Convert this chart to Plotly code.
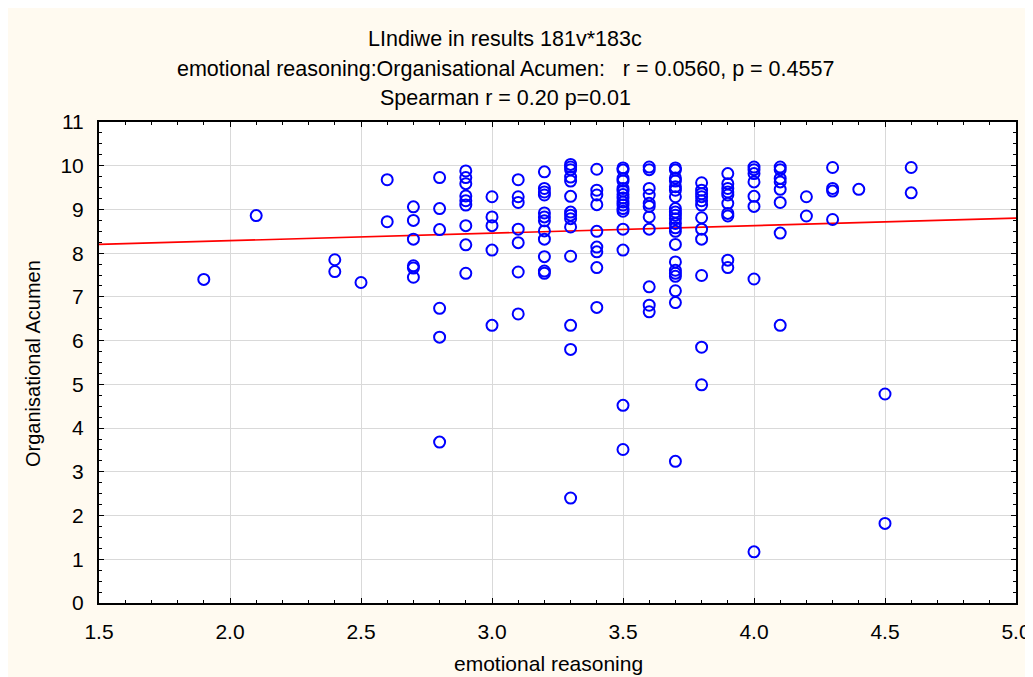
import plotly.graph_objects as go

# ---- data ----
emotional_reasoning_levels = [1.9, 2.1, 2.4, 2.5, 2.6, 2.7, 2.8, 2.9, 3.0, 3.1, 3.2, 3.3,
                              3.4, 3.5, 3.6, 3.7, 3.8, 3.9, 4.0, 4.1, 4.2, 4.3, 4.4, 4.5, 4.6]
organisational_acumen_by_level = [
    [7.40],
    [8.86],
    [7.85, 7.58],
    [7.33],
    [9.68, 8.72],
    [9.06, 8.75, 8.32, 7.71, 7.66, 7.45],
    [9.73, 9.02, 8.54, 6.74, 6.08, 3.68],
    [9.88, 9.73, 9.59, 9.31, 9.20, 9.10, 8.63, 8.19, 7.54],
    [9.29, 8.83, 8.63, 8.07, 6.35],
    [9.68, 9.29, 9.16, 8.55, 8.24, 7.57, 6.61],
    [9.86, 9.48, 9.40, 9.33, 8.92, 8.83, 8.74, 8.51, 8.32, 7.92, 7.59, 7.54],
    [10.03, 9.97, 9.91, 9.74, 9.65, 9.30, 8.94, 8.87, 8.79, 8.60, 7.93, 6.35, 5.80, 2.40],
    [9.92, 9.44, 9.33, 9.11, 8.50, 8.14, 8.03, 7.67, 6.76],
    [9.95, 9.90, 9.71, 9.65, 9.48, 9.42, 9.34, 9.26, 9.17, 9.10, 9.02, 8.96, 8.55, 8.07, 4.52, 3.51],
    [9.97, 9.91, 9.48, 9.33, 9.14, 9.07, 8.83, 8.55, 7.23, 6.81, 6.66],
    [9.95, 9.90, 9.72, 9.65, 9.52, 9.44, 9.29, 9.02, 8.94, 8.87, 8.79, 8.68, 8.58, 8.50, 8.20,
     7.80, 7.61, 7.54, 7.47, 7.14, 6.87, 3.24],
    [9.61, 9.44, 9.36, 9.29, 9.20, 9.10, 8.81, 8.55, 8.32, 7.49, 5.85, 4.99],
    [9.82, 9.59, 9.48, 9.40, 9.33, 9.14, 8.91, 8.85, 7.84, 7.67],
    [9.97, 9.91, 9.82, 9.63, 9.30, 9.07, 7.41, 1.17],
    [9.97, 9.91, 9.71, 9.63, 9.46, 9.16, 8.46, 6.35],
    [9.29, 8.85],
    [9.96, 9.48, 9.42, 8.77],
    [9.46],
    [4.78, 1.82],
    [9.96, 9.38],
]
fit_line_x = [1.5, 5.0]
fit_line_y = [8.20, 8.80]

x_tick_values = [1.5, 2.0, 2.5, 3.0, 3.5, 4.0, 4.5, 5.0]
x_tick_labels = ["1.5", "2.0", "2.5", "3.0", "3.5", "4.0", "4.5", "5.0"]
y_tick_values = list(range(0, 12))
y_tick_labels = [str(v) for v in y_tick_values]

title_lines = [
    "LIndiwe in results 181v*183c",
    "emotional reasoning:Organisational Acumen:   r = 0.0560, p = 0.4557",
    "Spearman r = 0.20 p=0.01",
]
x_title = "emotional reasoning"
y_title = "Organisational Acumen"

# flatten into point lists
xs, ys = [], []
for lvl, vals in zip(emotional_reasoning_levels, organisational_acumen_by_level):
    for v in vals:
        xs.append(lvl)
        ys.append(v)

# ---- layout geometry (figure pixels; page adds an 8px body margin) ----
OFF = 8
W, H = 1033 - OFF, 677 - OFF
L, R, T, B = 99 - OFF, 17, 122 - OFF, 74
PW, PH = W - L - R, H - T - B

def px_x(p):  # screen pixel -> paper fraction
    return (p - OFF - L) / PW

def px_y(p):
    return (H - B - (p - OFF)) / PH

FONT = "Liberation Sans, Arial, sans-serif"
BG = "#fffaf0"

fig = go.Figure()
fig.add_trace(go.Scatter(
    x=fit_line_x, y=fit_line_y, mode="lines",
    line=dict(color="#ff0000", width=1.7), hoverinfo="skip", showlegend=False))
fig.add_trace(go.Scatter(
    x=xs, y=ys, mode="markers",
    marker=dict(symbol="circle-open", size=11, color="#0000ff", line=dict(width=2, color="#0000ff")),
    showlegend=False))

axis_common = dict(
    showline=True, linecolor="black", linewidth=2, mirror="allticks",
    ticks="inside", ticklen=5, tickwidth=1, tickcolor="black",
    showgrid=True, gridcolor="#d9d9d9", gridwidth=1, zeroline=False,
    tickfont=dict(family=FONT, size=21, color="black"),
    ticklabelstandoff=9,
)
fig.update_xaxes(range=[1.5, 5.0], tickmode="array", tickvals=x_tick_values, ticktext=x_tick_labels,
                 minor=dict(dtick=0.1, tick0=1.5, ticks="inside", ticklen=3, tickcolor="black", showgrid=False),
                 **axis_common)
fig.update_yaxes(range=[0, 11], tickmode="array", tickvals=y_tick_values, ticktext=y_tick_labels,
                 minor=dict(dtick=0.25, tick0=0, ticks="inside", ticklen=3, tickcolor="black", showgrid=False),
                 **axis_common)

annotations = []
for text, py in zip(title_lines, [39, 69, 98]):
    annotations.append(dict(text=text, xref="paper", yref="paper", x=px_x(505), y=px_y(py),
                            xanchor="center", yanchor="middle", showarrow=False,
                            font=dict(family=FONT, size=21.5, color="black")))
annotations.append(dict(text=x_title, xref="paper", yref="paper", x=px_x(548), y=px_y(663),
                        xanchor="center", yanchor="middle", showarrow=False,
                        font=dict(family=FONT, size=21, color="black")))
annotations.append(dict(text=y_title, xref="paper", yref="paper", x=px_x(33), y=px_y(364),
                        xanchor="center", yanchor="middle", showarrow=False, textangle=-90,
                        font=dict(family=FONT, size=20, color="black")))

fig.update_layout(
    width=W, height=H,
    margin=dict(l=L, r=R, t=T, b=B, autoexpand=False),
    paper_bgcolor=BG, plot_bgcolor="white",
    font=dict(family=FONT, size=20, color="black"),
    annotations=annotations,
    showlegend=False,
)

fig.write_html("out.html", post_script="document.body.style.overflow='hidden';")
